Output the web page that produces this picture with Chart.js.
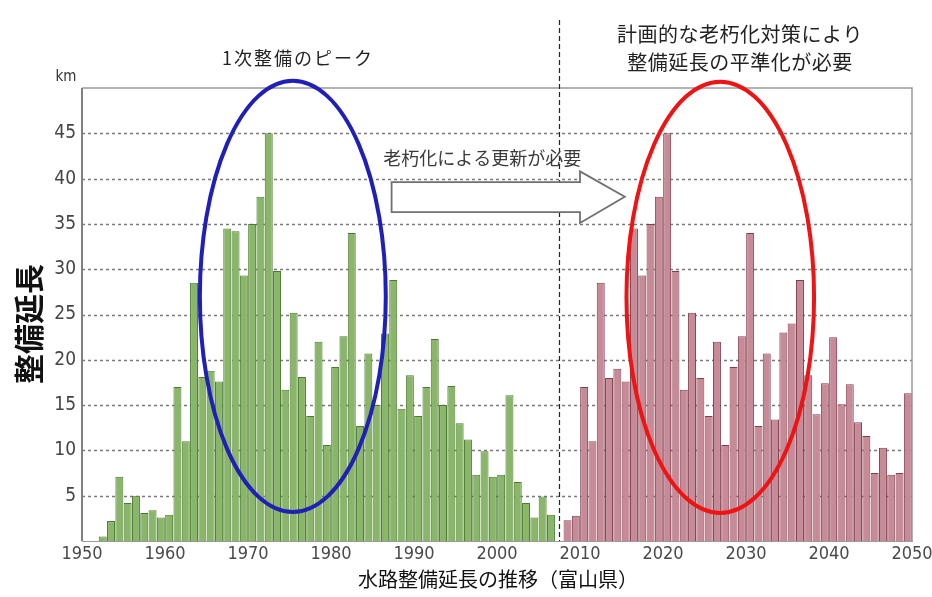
<!DOCTYPE html>
<html>
<head>
<meta charset="utf-8">
<script src="https://cdn.jsdelivr.net/npm/chart.js@4.4.1/dist/chart.umd.min.js"></script>
<style>
  body { margin: 0; background: #fff; }
</style>
</head>
<body>
<canvas id="graficoSuiro" width="932" height="597"></canvas>
<script>
// 1次整備（緑）: 1952年から毎年の整備延長 km
const builtFrom = 1952;
const builtLen = [
  0.5, 2.2, 7.1, 4.2, 5, 3.1, 3.4, 2.6, 2.9,
  17, 11, 28.5, 18.1, 18.8, 17.6, 34.5, 34.2, 29.3, 35,
  38, 45, 29.8, 16.7, 25.2, 18.1, 13.8, 22, 10.6, 19.2,
  22.6, 34, 12.7, 20.7, 15, 22.9, 28.8, 14.6, 18.3, 13.8,
  17, 22.3, 15, 17.1, 13, 11.2, 7.3, 9.9, 7.1, 7.3,
  16.1, 6.5, 4.2, 2.6, 4.9, 2.9
];

// 老朽化による更新（ピンク）: 2008年から
const renewFrom = 2008;
const renewLen = [
  2.3, 2.8,
  17, 11, 28.5, 18, 19, 17.6, 34.5, 29.3, 35, 38,
  45, 29.8, 16.7, 25.2, 18, 13.8, 22, 10.6, 19.2, 22.6,
  34, 12.7, 20.7, 13.4, 23, 24, 28.8, 18.3, 14, 17.4,
  22.5, 15.1, 17.3, 13.1, 11.6, 7.5, 10.3, 7.3, 7.5, 16.3
];

const yearTicks = [1950, 1960, 1970, 1980, 1990, 2000, 2010, 2020, 2030, 2040, 2050];
const lenTicks = [5, 10, 15, 20, 25, 30, 35, 40, 45];

const CJK = '"Noto Sans CJK JP", "Noto Sans", sans-serif';
const NARROW = '"Liberation Sans Narrow", "DejaVu Sans Condensed", "Liberation Sans", Arial, sans-serif';

// 各年の棒は [年, 年+1] の区間に置く
function toBars(from, values) {
  return values.map((v, i) => ({ x: from + i + 0.5, y: v }));
}

function texto(ctx, str, x, y, font, color, align, spacing) {
  ctx.font = font;
  ctx.fillStyle = color;
  ctx.textAlign = align || "center";
  ctx.textBaseline = "middle";
  ctx.letterSpacing = (spacing || 0) + "px";
  ctx.fillText(str, x, y);
  ctx.letterSpacing = "0px";
}

const decoPlugin = {
  id: "deco",
  beforeDatasetsDraw(chart) {
    const { ctx, chartArea: a, scales: { y } } = chart;
    ctx.save();
    ctx.strokeStyle = "#7a7a7a";
    ctx.lineWidth = 1.5;
    ctx.setLineDash([3, 3]);
    lenTicks.forEach(v => {
      const py = Math.round(y.getPixelForValue(v)) + 0.5;
      ctx.beginPath();
      ctx.moveTo(a.left, py);
      ctx.lineTo(a.right, py);
      ctx.stroke();
    });
    ctx.restore();
  },
  afterDraw(chart) {
    const { ctx, chartArea: a, scales: { x, y } } = chart;
    const X = v => x.getPixelForValue(v);
    const Y = v => y.getPixelForValue(v);
    ctx.save();

    // 枠
    ctx.strokeStyle = "#9a9a9a";
    ctx.lineWidth = 1.5;
    ctx.beginPath();
    ctx.moveTo(a.left, a.top);
    ctx.lineTo(a.right, a.top);
    ctx.lineTo(a.right, a.bottom);
    ctx.stroke();
    ctx.strokeStyle = "#808080";
    ctx.lineWidth = 2;
    ctx.beginPath();
    ctx.moveTo(a.left, a.top);
    ctx.lineTo(a.left, a.bottom);
    ctx.stroke();

    // 区切りの破線
    const xd = Math.round(X(2007.5)) + 0.5;
    ctx.strokeStyle = "#222";
    ctx.lineWidth = 1.2;
    ctx.setLineDash([5, 3]);
    ctx.beginPath();
    ctx.moveTo(xd, Y(57.5));
    ctx.lineTo(xd, a.bottom);
    ctx.stroke();
    ctx.setLineDash([]);

    // 楕円
    const elipse = (cx, cv, rxYears, ryVal, color) => {
      const px = X(cx);
      const py = Y(cv);
      const rx = Math.abs(X(cx + rxYears) - px);
      const ry = Math.abs(Y(cv + ryVal) - py);
      ctx.strokeStyle = color;
      ctx.lineWidth = 4;
      ctx.beginPath();
      ctx.ellipse(px, py, rx, ry, 0, 0, Math.PI * 2);
      ctx.stroke();
    };
    elipse(1975.4, 27.0, 11.2, 23.8, "#2020b8");
    elipse(2026.9, 26.9, 11.3, 23.8, "#ee1414");

    // 矢印
    ctx.fillStyle = "#fff";
    ctx.strokeStyle = "#707070";
    ctx.lineWidth = 1.8;
    ctx.beginPath();
    ctx.moveTo(X(1987.3), Y(39.6));
    ctx.lineTo(X(2010.0), Y(39.6));
    ctx.lineTo(X(2010.0), Y(40.8));
    ctx.lineTo(X(2015.4), Y(38.0));
    ctx.lineTo(X(2010.0), Y(35.1));
    ctx.lineTo(X(2010.0), Y(36.3));
    ctx.lineTo(X(1987.3), Y(36.3));
    ctx.closePath();
    ctx.fill();
    ctx.stroke();

    texto(ctx, "老朽化による更新が必要", X(1986.3), Y(42.3), "18px " + CJK, "#3a3a3a", "left");

    // 注記
    texto(ctx, "1次整備のピーク", 298, 58, "18px " + CJK, "#222", "center", 2);
    texto(ctx, "計画的な老朽化対策により", 740, 34, "20px " + CJK, "#222", "center", 0.5);
    texto(ctx, "整備延長の平準化が必要", 740, 62, "20px " + CJK, "#222", "center", 0.5);
    texto(ctx, "km", 66, 77, "15px " + NARROW, "#333");

    // 軸タイトル
    texto(ctx, "水路整備延長の推移（富山県）", 498, 579, "20px " + CJK, "#111");
    ctx.translate(29, 324);
    ctx.rotate(-Math.PI / 2);
    texto(ctx, "整備延長", 0, 0, "bold 30px " + CJK, "#111");

    ctx.restore();
  }
};

new Chart(document.getElementById("graficoSuiro").getContext("2d"), {
  type: "bar",
  data: {
    datasets: [
      {
        label: "1次整備",
        data: toBars(builtFrom, builtLen),
        backgroundColor: "#8ab669",
        borderColor: "#4c7a33",
        borderWidth: 1,
        barPercentage: 0.96,
        categoryPercentage: 1
      },
      {
        label: "更新",
        data: toBars(renewFrom, renewLen),
        backgroundColor: "#c78b97",
        borderColor: "#803f4f",
        borderWidth: 1,
        barPercentage: 0.96,
        categoryPercentage: 1
      }
    ]
  },
  options: {
    responsive: false,
    animation: false,
    layout: { padding: { left: 0, top: 88, right: 20, bottom: 0 } },
    plugins: { legend: { display: false }, tooltip: { enabled: false } },
    scales: {
      x: {
        type: "linear",
        stacked: true,
        offset: false,
        min: 1950,
        max: 2050,
        afterBuildTicks: s => { s.ticks = yearTicks.map(v => ({ value: v })); },
        afterFit: s => { s.height = 56; s.paddingRight = 0; },
        grid: { display: false, drawTicks: false },
        border: { display: true, color: "#999", width: 1 },
        ticks: {
          padding: 3,
          color: "#4a4a4a",
          font: { family: NARROW, size: 18 },
          maxRotation: 0,
          autoSkip: false,
          callback: v => String(v)
        }
      },
      y: {
        stacked: true,
        min: 0,
        max: 50,
        afterBuildTicks: s => { s.ticks = lenTicks.map(v => ({ value: v })); },
        afterFit: s => { s.width = 82; },
        grid: { display: false, drawTicks: false },
        border: { display: false },
        ticks: {
          padding: 6,
          color: "#444",
          font: { family: NARROW, size: 19 },
          callback: v => String(v)
        }
      }
    }
  },
  plugins: [decoPlugin]
});
</script>
</body>
</html>
